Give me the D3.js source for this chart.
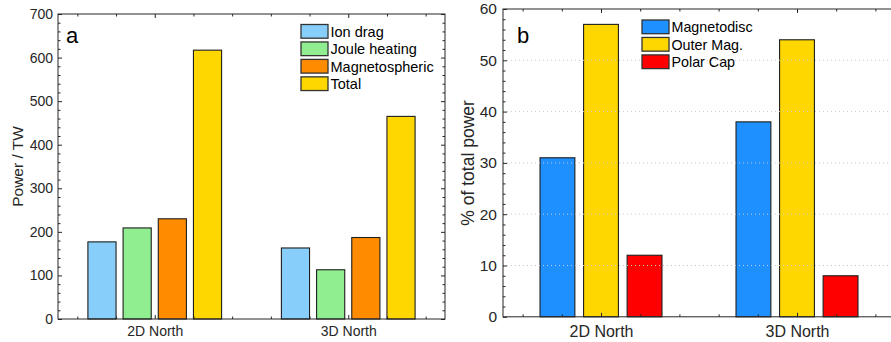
<!DOCTYPE html>
<html>
<head>
<meta charset="utf-8">
<script src="https://cdn.jsdelivr.net/npm/d3@7"></script>
<style>
  body { margin: 0; background: #fff; }
  svg { display: block; font-family: "Liberation Sans", Arial, sans-serif; }
  .axis text { fill: #262626; }
  .axis line { stroke: #262626; }
</style>
</head>
<body>
<svg id="chart" width="891" height="342"></svg>
<script>
// categories shared by both panels
const categories = ["2D North", "3D North"];

// panel a: power by term (TW)
const seriesA = ["Ion drag", "Joule heating", "Magnetospheric", "Total"];
const valuesA2D = [177, 209, 230, 617];
const valuesA3D = [163, 113, 187, 465];
const colorsA = ["#87CEFA", "#90EE90", "#FF8C00", "#FFD700"];

// panel b: share of total power (%)
const seriesB = ["Magnetodisc", "Outer Mag.", "Polar Cap"];
const valuesB2D = [31, 57, 12];
const valuesB3D = [38, 54, 8];
const colorsB = ["#1E90FF", "#FFD700", "#FF0000"];

const svg = d3.select("#chart");

function panel(o) {
  const g = svg.append("g");
  const x = d3.scaleLinear().domain([0.5, 2.5]).range([o.left, o.right]);
  const y = d3.scaleLinear().domain([0, o.ymax]).range([o.bottom, o.top]);

  // matlab style grouped bars
  const n = o.series.length;
  const gw = Math.min(0.8, n / (n + 1.5));
  const inner = d3.scaleBand().domain(o.series).range([-gw / 2, gw / 2])
    .paddingInner(0.2).paddingOuter(0.1);

  const rows = [];
  o.values.forEach((vals, ci) => {
    vals.forEach((v, si) => rows.push({c: ci + 1, s: o.series[si], v: v, col: o.colors[si]}));
  });

  g.selectAll("rect.bar")
    .data(rows)
    .enter().append("rect")
    .attr("class", "bar")
    .attr("x", d => x(d.c + inner(d.s)))
    .attr("width", d => x(d.c + inner(d.s) + inner.bandwidth()) - x(d.c + inner(d.s)))
    .attr("y", d => y(d.v))
    .attr("height", d => y(0) - y(d.v))
    .style("fill", d => d.col)
    .style("stroke", "#1e1e1e")
    .style("stroke-width", 1.1);

  // dotted grid (drawn over the bars, like the original)
  if (o.grid) {
    g.selectAll("line.grid")
      .data(d3.range(o.yMajor, o.ymax, o.yMajor))
      .enter().append("line")
      .attr("x1", o.left).attr("x2", o.right)
      .attr("y1", d => y(d)).attr("y2", d => y(d))
      .style("stroke", "#c8c8c8")
      .style("stroke-width", 1)
      .style("stroke-dasharray", "1,3");
  }

  const yMajor = d3.range(0, o.ymax + 0.001, o.yMajor);
  const yMinor = d3.range(0, o.ymax + 0.001, o.yMinor).filter(v => yMajor.indexOf(v) < 0);
  const xMinor = d3.range(0.6, 2.41, 0.2).map(v => +v.toFixed(1)).filter(v => v !== 1 && v !== 2);

  const fs = o.tickFont;

  // left axis
  const la = g.append("g").attr("class", "axis").attr("transform", `translate(${o.left},0)`);
  la.call(d3.axisLeft(y).tickValues(yMajor).tickSize(-4).tickSizeOuter(0).tickPadding(o.yPad));
  la.append("g").call(d3.axisLeft(y).tickValues(yMinor).tickSize(-2.5).tickSizeOuter(0).tickFormat(""));
  // right axis
  const ra = g.append("g").attr("class", "axis").attr("transform", `translate(${o.right},0)`);
  ra.call(d3.axisRight(y).tickValues(yMajor).tickSize(-4).tickSizeOuter(0).tickFormat(""));
  ra.append("g").call(d3.axisRight(y).tickValues(yMinor).tickSize(-2.5).tickSizeOuter(0).tickFormat(""));
  // bottom axis
  const ba = g.append("g").attr("class", "axis").attr("transform", `translate(0,${o.bottom})`);
  ba.call(d3.axisBottom(x).tickValues([1, 2]).tickSize(-4).tickSizeOuter(0).tickPadding(o.xPad)
    .tickFormat(d => categories[d - 1]));
  ba.append("g").call(d3.axisBottom(x).tickValues(xMinor).tickSize(-2.5).tickSizeOuter(0).tickFormat(""));
  // top axis
  const ta = g.append("g").attr("class", "axis").attr("transform", `translate(0,${o.top})`);
  ta.call(d3.axisTop(x).tickValues([1, 2]).tickSize(-4).tickSizeOuter(0).tickFormat(""));
  ta.append("g").call(d3.axisTop(x).tickValues(xMinor).tickSize(-2.5).tickSizeOuter(0).tickFormat(""));

  g.selectAll(".axis path.domain").remove();
  g.selectAll(".axis text").style("font-size", fs + "px").style("font-family", null);
  ba.selectAll("text").style("font-size", o.xFont + "px");

  // box
  g.append("rect")
    .attr("x", o.left).attr("y", o.top)
    .attr("width", o.right - o.left).attr("height", o.bottom - o.top)
    .style("fill", "none").style("stroke", "#262626").style("stroke-width", 1);

  // y label
  g.append("text")
    .attr("transform", `translate(${o.ylabX},${(o.top + o.bottom) / 2}) rotate(-90)`)
    .attr("text-anchor", "middle")
    .attr("dy", "0.35em")
    .style("font-size", o.ylabFont + "px")
    .style("fill", "#262626")
    .text(o.ylabel);

  // panel letter
  g.append("text")
    .attr("x", o.letterX).attr("y", o.letterY)
    .style("font-size", "22px")
    .style("fill", "#000")
    .text(o.letter);

  // legend
  const lg = g.append("g");
  const items = lg.selectAll("g.item")
    .data(o.series)
    .enter().append("g")
    .attr("transform", (d, i) => `translate(${o.legX},${o.legY + i * 17.45})`);
  items.append("rect")
    .attr("width", 27).attr("height", 13.7)
    .style("fill", (d, i) => o.colors[i])
    .style("stroke", "#333")
    .style("stroke-width", 1.3);
  items.append("text")
    .attr("x", 29.5).attr("y", 6.9)
    .attr("dy", "0.36em")
    .style("font-size", o.legFont + "px")
    .style("fill", "#000")
    .text(d => d);
}

panel({
  left: 58, right: 445, top: 14, bottom: 319,
  ymax: 700, yMajor: 100, yMinor: 20,
  series: seriesA, values: [valuesA2D, valuesA3D], colors: colorsA,
  grid: false,
  tickFont: 14, xFont: 14, yPad: 5, xPad: 7,
  ylabel: "Power / TW", ylabX: 18, ylabFont: 15.5,
  letter: "a", letterX: 66, letterY: 43,
  legX: 301, legY: 24.5, legFont: 14.5
});

panel({
  left: 503, right: 895, top: 9, bottom: 316.8,
  ymax: 60, yMajor: 10, yMinor: 2,
  series: seriesB, values: [valuesB2D, valuesB3D], colors: colorsB,
  grid: true,
  tickFont: 15.5, xFont: 16, yPad: 6, xPad: 9,
  ylabel: "% of total power", ylabX: 468, ylabFont: 17.5,
  letter: "b", letterX: 517, letterY: 42.5,
  legX: 642, legY: 20, legFont: 14.3
});
</script>
</body>
</html>
